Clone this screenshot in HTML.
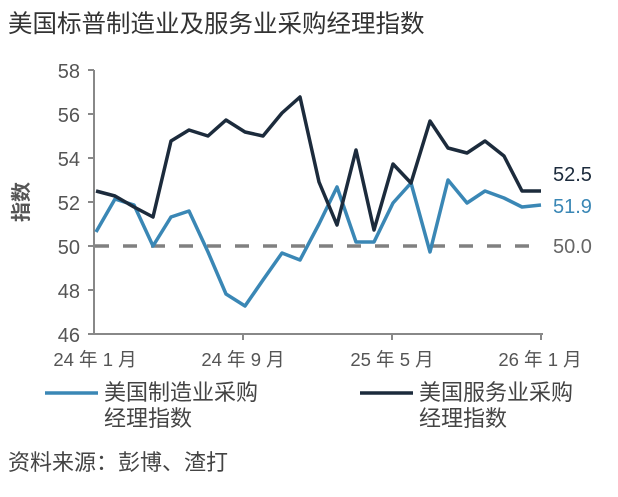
<!DOCTYPE html>
<html><head><meta charset="utf-8"><style>
body{margin:0;background:#fff;}
svg text{font-family:"Liberation Sans","Noto Sans CJK SC",sans-serif;}
</style></head><body>
<svg width="618" height="492" xmlns="http://www.w3.org/2000/svg">
<text x="8" y="32" font-size="24.5" fill="#333">美国标普制造业及服务业采购经理指数</text>
<g stroke="#888" stroke-width="2">
<line x1="94" y1="70" x2="94" y2="335"/>
<line x1="94" y1="334" x2="543" y2="334"/>
<line x1="88" y1="70" x2="94" y2="70"/><line x1="88" y1="114" x2="94" y2="114"/>
<line x1="88" y1="158" x2="94" y2="158"/><line x1="88" y1="202" x2="94" y2="202"/>
<line x1="88" y1="246" x2="94" y2="246"/><line x1="88" y1="290" x2="94" y2="290"/>
<line x1="88" y1="334" x2="94" y2="334"/>
<line x1="243" y1="334" x2="243" y2="340"/><line x1="392" y1="334" x2="392" y2="340"/><line x1="541" y1="334" x2="541" y2="340"/>
</g>
<g font-size="20" fill="#555" text-anchor="end">
<text x="80" y="78">58</text><text x="80" y="122">56</text><text x="80" y="166">54</text>
<text x="80" y="210">52</text><text x="80" y="254">50</text><text x="80" y="298">48</text><text x="80" y="342">46</text>
</g>
<text x="28" y="202" font-size="20" font-weight="bold" fill="#555" text-anchor="middle" transform="rotate(-90 28 202)">指数</text>
<g font-size="18.5" fill="#555" text-anchor="middle">
<text x="95" y="366">24 年 1 月</text><text x="243" y="366">24 年 9 月</text>
<text x="392" y="366">25 年 5 月</text><text x="540" y="366">26 年 1 月</text>
</g>
<line x1="95" y1="246" x2="543" y2="246" stroke="#808080" stroke-width="3.5" stroke-dasharray="14,14"/>
<polyline fill="none" stroke="#3a87b5" stroke-width="3.5" stroke-linejoin="round" points="96,232 115,199 134,205 153,246 171,217 189,211 208,252 226,294 245,306 263,280 282,253 300,260 319,224 337,187 356,242 374,242 393,203 411,183 430,252 448,180 467,203 485,191 504,198 522,207 541,205"/>
<polyline fill="none" stroke="#1c2b3c" stroke-width="3.5" stroke-linejoin="round" points="96,191 115,196 134,207 153,217 171,141 189,130 208,136 226,120 245,132 263,136 282,113 300,97 319,182 337,225 356,150 374,230 393,164 411,183 430,121 448,148 467,153 485,141 504,156 522,191 541,191"/>
<text x="553" y="181" font-size="20" fill="#1c2b3c">52.5</text>
<text x="553" y="213" font-size="20" fill="#3a87b5">51.9</text>
<text x="553" y="253" font-size="20" fill="#666">50.0</text>
<line x1="45" y1="393" x2="98" y2="393" stroke="#3a87b5" stroke-width="3.5"/>
<text x="104" y="400" font-size="22" fill="#444">美国制造业采购</text>
<text x="104" y="426" font-size="22" fill="#444">经理指数</text>
<line x1="360" y1="393" x2="413" y2="393" stroke="#1c2b3c" stroke-width="3.5"/>
<text x="419" y="400" font-size="22" fill="#444">美国服务业采购</text>
<text x="419" y="426" font-size="22" fill="#444">经理指数</text>
<text x="8" y="470" font-size="22" fill="#444">资料来源：彭博、渣打</text>
</svg>
</body></html>
